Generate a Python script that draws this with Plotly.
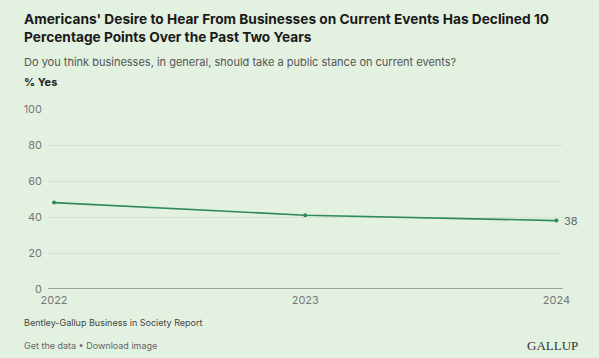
import plotly.graph_objects as go

years = [2022, 2023, 2024]
pct_yes = [48, 41, 38]
y_ticks = [0, 20, 40, 60, 80, 100]
x_ticks = [2022, 2023, 2024]

BG = "#e3f1e0"
LINE = "#2f8a58"
FONT = "Inter, Roboto, sans-serif"

fig = go.Figure()
fig.add_trace(go.Scatter(
    x=years, y=pct_yes, mode="lines+markers",
    line=dict(color=LINE, width=1.6),
    marker=dict(color=LINE, size=4),
    hoverinfo="x+y", showlegend=False,
))

fig.add_annotation(x=years[-1], y=pct_yes[-1], text=str(pct_yes[-1]),
                   showarrow=False, xanchor="left", xshift=6,
                   font=dict(family=FONT, size=11, color="#666"))

fig.update_layout(
    width=599, height=358,
    paper_bgcolor=BG, plot_bgcolor=BG,
    margin=dict(l=48, r=36, t=109, b=69),
    font=dict(family=FONT, color="#666", size=11),
    xaxis=dict(range=[2021.976, 2024.026], tickvals=x_ticks,
               ticktext=[str(v) for v in x_ticks], showgrid=False,
               zeroline=False, showline=False, ticks="", ticklen=0,
               ticklabelstandoff=3,
               tickfont=dict(size=11, color="#777")),
    yaxis=dict(range=[0, 100], tickvals=y_ticks, showgrid=True,
               gridcolor="#d3e3cf", gridwidth=1, zeroline=False,
               ticks="", ticklabelstandoff=5,
               tickfont=dict(size=11, color="#777")),
    shapes=[dict(type="line", xref="paper", yref="y", x0=0, x1=1, y0=0, y1=0,
                 line=dict(color="#9aa59a", width=2))],
)

fig.add_annotation(xref="paper", yref="paper", x=-0.051, y=1.0, yshift=62,
                   xanchor="left", yanchor="bottom", align="left",
                   text="<b>Americans' Desire to Hear From Businesses on Current Events Has Declined 10<br>Percentage Points Over the Past Two Years</b>",
                   showarrow=False, font=dict(family=FONT, size=13.7, color="#1a1a1a"))
fig.add_annotation(xref="paper", yref="paper", x=-0.051, y=1.0, yshift=47,
                   xanchor="left", yanchor="middle", align="left",
                   text="Do you think businesses, in general, should take a public stance on current events?",
                   showarrow=False, font=dict(family=FONT, size=11, color="#555"))
fig.add_annotation(xref="paper", yref="paper", x=-0.051, y=1.0, yshift=27,
                   xanchor="left", yanchor="middle", align="left",
                   text="<b>% Yes</b>",
                   showarrow=False, font=dict(family=FONT, size=11, color="#222"))
fig.add_annotation(xref="paper", yref="paper", x=-0.051, y=0, yshift=-33,
                   xanchor="left", yanchor="middle",
                   text="Bentley-Gallup Business in Society Report",
                   showarrow=False, font=dict(family=FONT, size=9, color="#444"))
fig.add_annotation(xref="paper", yref="paper", x=-0.051, y=0, yshift=-56,
                   xanchor="left", yanchor="middle",
                   text="Get the data • Download image",
                   showarrow=False, font=dict(family=FONT, size=9, color="#666"))
fig.add_annotation(xref="paper", yref="paper", x=1.033, y=0, yshift=-56,
                   xanchor="right", yanchor="middle",
                   text="GALLUP",
                   showarrow=False, font=dict(family="Liberation Serif, serif", size=13, color="#333"))

fig.write_html("out.html", config={"displayModeBar": False},
               post_script="document.body.style.margin='0';document.body.style.padding='0';document.body.style.background='%s';" % BG)
